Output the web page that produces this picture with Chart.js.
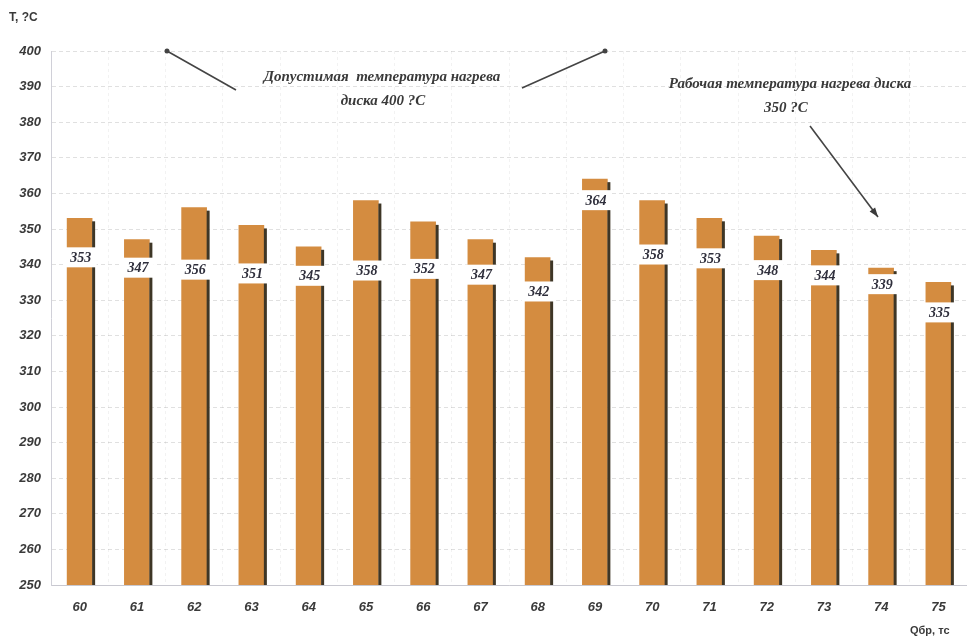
<!DOCTYPE html>
<html>
<head>
<meta charset="utf-8">
<script src="https://cdn.jsdelivr.net/npm/chart.js@4.4.1/dist/chart.umd.min.js"></script>
<style>
  html, body { margin: 0; padding: 0; background: #fff; }
  #wrap { position: relative; width: 967px; height: 639px; }
</style>
</head>
<body>
<div id="wrap"><canvas id="c" width="967" height="639"></canvas></div>
<script>
// Brake flow (Qбр, тс) and disc heating temperature (T, °C)
const flows = ['60','61','62','63','64','65','66','67','68','69','70','71','72','73','74','75'];
const temps = [353, 347, 356, 351, 345, 358, 352, 347, 342, 364, 358, 353, 348, 344, 339, 335];
const yMin = 250, yMax = 400, yStep = 10;
const allowedTemp = 400;
const workingTemp = 350;
const yTitle = 'T, ?C';
const xTitle = 'Qбр, тс';
const allowedNote = ['Допустимая  температура нагрева', 'диска 400 ?С'];
const workingNote = ['Рабочая температура нагрева диска', '350 ?С'];

// vertical drop (px) of each value tag below its bar top
const tagDrop = [39, 28, 62, 48, 29, 70, 47, 35, 34, 21, 54, 40, 34, 25, 16, 30];

const ink = '#3a3a3a';

const decor = {
  id: 'decor',
  afterDatasetsDraw(chart) {
    const ctx = chart.ctx;
    const meta = chart.getDatasetMeta(0);
    const ys = chart.scales.y;
    const bottom = ys.getPixelForValue(yMin);
    ctx.save();
    // dark right-hand side of every bar
    meta.data.forEach(bar => {
      const p = bar.getProps(['x', 'y', 'width'], true);
      ctx.fillStyle = '#3e3626';
      ctx.fillRect(p.x + p.width / 2, p.y + 3, 3, bottom - p.y - 3);
    });
    // value tags
    ctx.font = 'italic bold 14px "Liberation Serif", serif';
    ctx.textAlign = 'center';
    ctx.textBaseline = 'middle';
    meta.data.forEach((bar, i) => {
      const p = bar.getProps(['x', 'y'], true);
      const cy = p.y + tagDrop[i];
      ctx.fillStyle = '#ffffff';
      ctx.fillRect(p.x - 16, cy - 10, 33, 20);
      ctx.fillStyle = '#2f2f3c';
      ctx.fillText(String(temps[i]), p.x + 1, cy + 1);
    });

    // annotation: allowed temperature
    const yA = ys.getPixelForValue(allowedTemp);
    ctx.strokeStyle = '#444';
    ctx.fillStyle = '#444';
    ctx.lineWidth = 1.6;
    ctx.beginPath();
    ctx.moveTo(167, yA); ctx.lineTo(236, 90);
    ctx.moveTo(605, yA); ctx.lineTo(522, 88);
    ctx.stroke();
    [[167, yA], [605, yA]].forEach(([x, y]) => {
      ctx.beginPath(); ctx.arc(x, y, 2.5, 0, Math.PI * 2); ctx.fill();
    });
    ctx.font = 'italic bold 15px "Liberation Serif", serif';
    ctx.fillStyle = ink;
    ctx.fillText(allowedNote[0], 382, 77);
    ctx.fillText(allowedNote[1], 383, 101);

    // annotation: working temperature
    ctx.fillText(workingNote[0], 790, 84);
    ctx.fillText(workingNote[1], 786, 108);
    const yW = ys.getPixelForValue(workingTemp);
    const x1 = 810, y1 = 126, x2 = 878, y2 = yW - 12;
    ctx.beginPath(); ctx.moveTo(x1, y1); ctx.lineTo(x2, y2); ctx.stroke();
    const ang = Math.atan2(y2 - y1, x2 - x1);
    ctx.beginPath();
    ctx.moveTo(x2, y2);
    ctx.lineTo(x2 - 10 * Math.cos(ang - 0.35), y2 - 10 * Math.sin(ang - 0.35));
    ctx.lineTo(x2 - 10 * Math.cos(ang + 0.35), y2 - 10 * Math.sin(ang + 0.35));
    ctx.closePath(); ctx.fill();

    // axis titles
    ctx.font = 'bold 12px "Liberation Sans", Arial, sans-serif';
    ctx.textAlign = 'left';
    ctx.fillStyle = ink;
    ctx.fillText(yTitle, 9, 18);
    ctx.font = 'bold 11px "Liberation Sans", Arial, sans-serif';
    ctx.fillText(xTitle, 910, 631);
    ctx.restore();
  }
};

new Chart(document.getElementById('c'), {
  type: 'bar',
  data: {
    labels: flows,
    datasets: [{
      data: temps,
      backgroundColor: '#d48c40',
      barThickness: 25,
      borderWidth: 0
    }]
  },
  options: {
    responsive: false,
    animation: false,
    layout: { padding: { top: 51, right: 0, left: 0, bottom: 0 } },
    plugins: { legend: { display: false }, tooltip: { enabled: false } },
    scales: {
      x: {
        offset: true,
        afterFit(s) { s.height = 54; },
        grid: { display: true, offset: true, color: 'rgba(0,0,0,0.05)', drawTicks: false },
        border: { display: true, color: '#c8c8d0', dash: [3, 3] },
        ticks: {
          padding: 15,
          color: ink,
          font: { family: '"Liberation Sans", Arial, sans-serif', size: 13, weight: 'bold', style: 'italic' }
        }
      },
      y: {
        min: yMin, max: yMax,
        afterFit(s) { s.width = 51; },
        grid: { color: 'rgba(0,0,0,0.12)', drawTicks: false },
        border: { display: true, color: '#d0d0d8', dash: [4, 3] },
        ticks: {
          stepSize: yStep,
          padding: 10,
          color: ink,
          font: { family: '"Liberation Sans", Arial, sans-serif', size: 13, weight: 'bold', style: 'italic' }
        }
      }
    }
  },
  plugins: [decor]
});
</script>
</body>
</html>
